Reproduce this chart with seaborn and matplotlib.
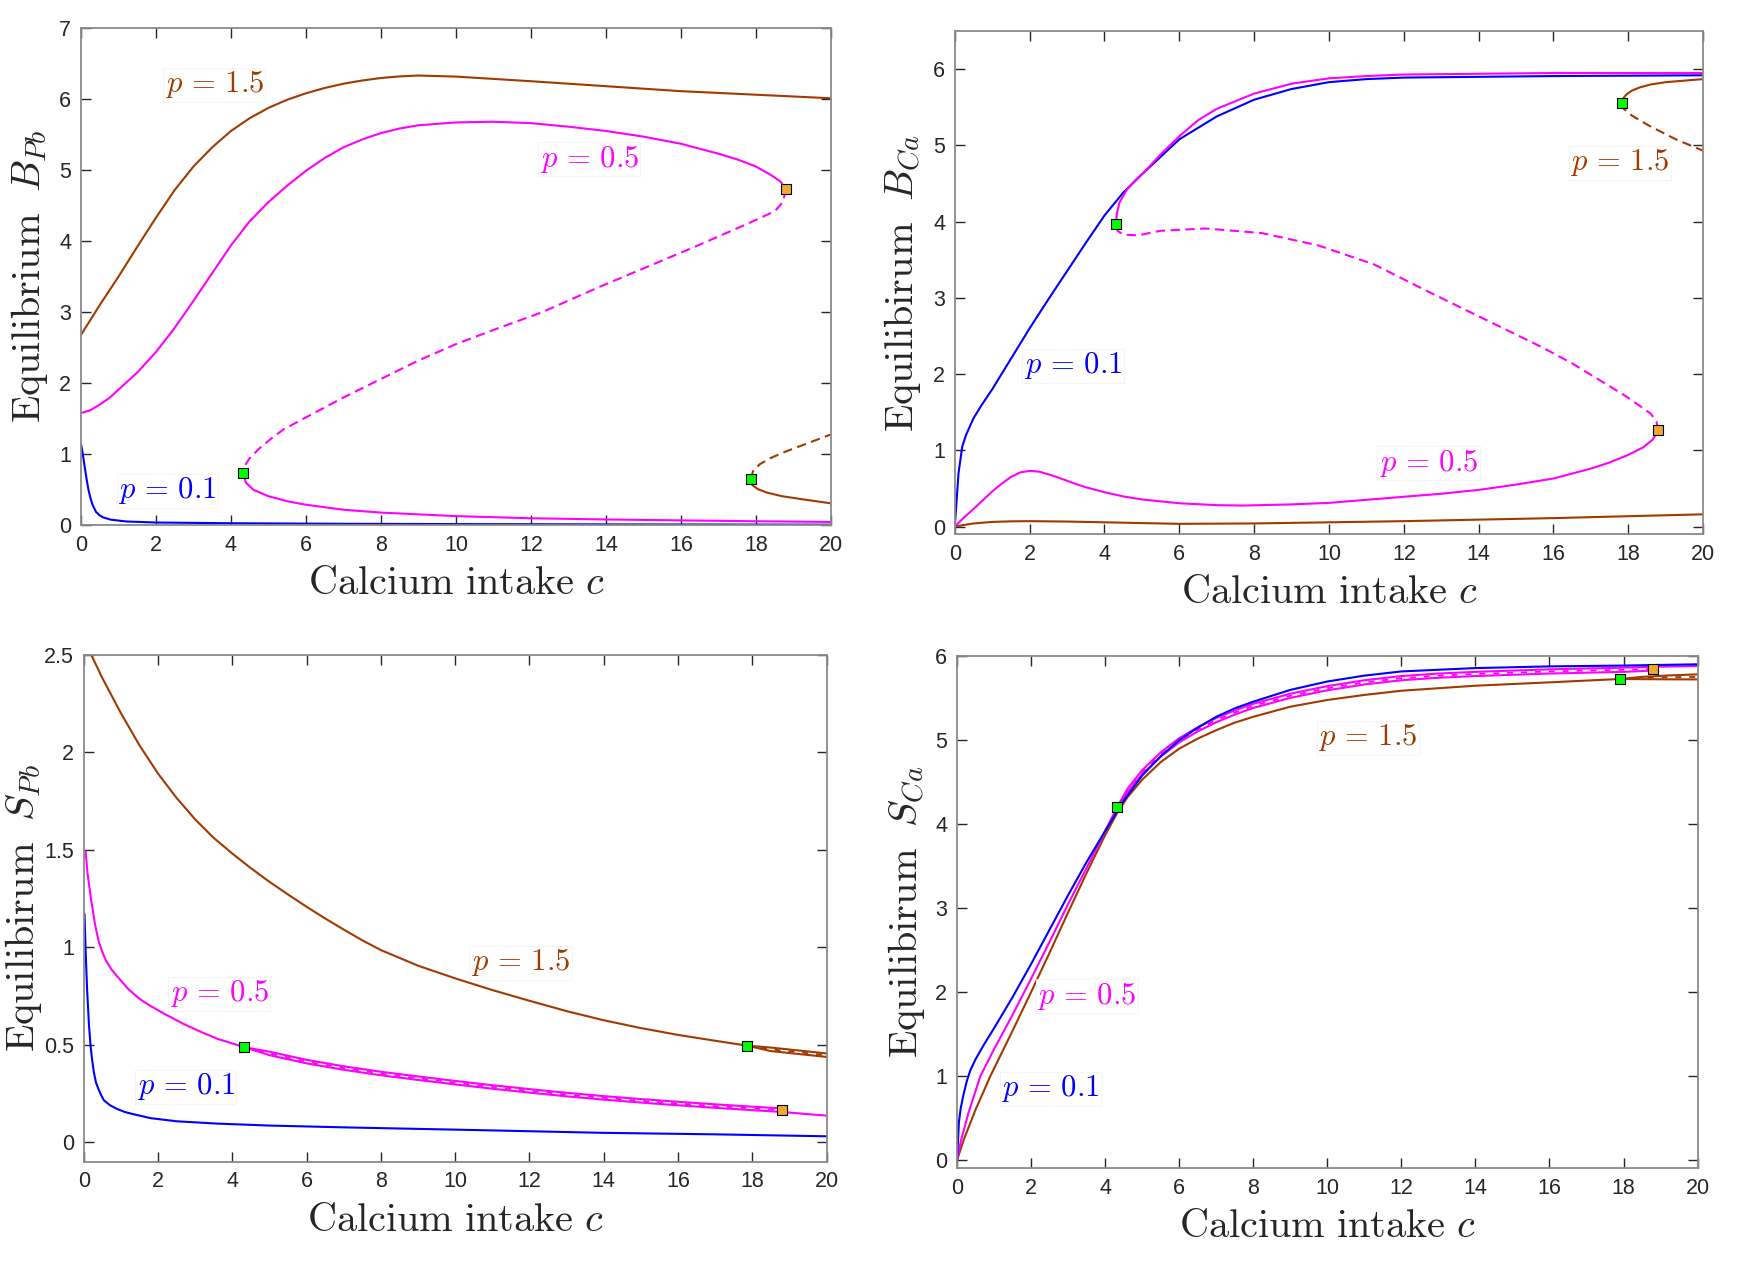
import numpy as np
import pandas as pd
import matplotlib
matplotlib.use("Agg")
import matplotlib.pyplot as plt
from matplotlib.ticker import FuncFormatter
import seaborn as sns

sns.set_style("ticks")
plt.rcParams['font.family'] = ['Liberation Sans', 'DejaVu Sans']
plt.rcParams['mathtext.fontset'] = 'cm'

BLUE = '#0000ff'
MAG = '#ff00ff'
BROWN = '#a03a00'
GREEN = '#00ff00'
ORANGE = '#f0a830'

# ---------------- data ----------------
# top left: equilibrium B_Pb
tl_blue_c = [0, 0.05, 0.1, 0.15, 0.2, 0.25, 0.3, 0.4, 0.5, 0.6, 0.8, 1.2, 2, 4, 7, 10, 14, 20]
tl_blue_b = [1.15, 1.0, 0.82, 0.65, 0.5, 0.39, 0.3, 0.19, 0.14, 0.11, 0.08, 0.055, 0.04, 0.03, 0.022, 0.018, 0.014, 0.01]

tl_mag_up_c = [0, 0.25, 0.5, 0.75, 1, 1.5, 2, 2.5, 3, 3.5, 4, 4.5, 5, 5.5, 6, 6.5, 7, 7.5, 8, 8.5, 9, 10, 11, 12, 13, 14, 15, 16, 17, 17.5, 18, 18.4, 18.65, 18.8]
tl_mag_up_b = [1.58, 1.62, 1.7, 1.79, 1.91, 2.15, 2.44, 2.78, 3.16, 3.55, 3.94, 4.28, 4.55, 4.78, 4.99, 5.17, 5.32, 5.43, 5.52, 5.585, 5.63, 5.67, 5.68, 5.66, 5.61, 5.55, 5.47, 5.37, 5.23, 5.15, 5.05, 4.93, 4.84, 4.73]
tl_mag_mid_c = [18.8, 18.72, 18.5, 17.8, 16.5, 15.2, 13.8, 12.3, 11, 10, 9, 7.96, 7, 5.93, 5.4, 5.07, 4.75, 4.49, 4.36, 4.33]
tl_mag_mid_b = [4.73, 4.55, 4.42, 4.25, 3.95, 3.66, 3.35, 3.0, 2.75, 2.55, 2.32, 2.05, 1.8, 1.5, 1.35, 1.22, 1.08, 0.94, 0.83, 0.73]
tl_mag_low_c = [4.33, 4.4, 4.6, 5, 5.5, 6, 7, 8, 10, 12, 14, 16, 18, 20]
tl_mag_low_b = [0.73, 0.6, 0.5, 0.41, 0.34, 0.29, 0.22, 0.18, 0.13, 0.10, 0.083, 0.07, 0.058, 0.048]

tl_brn_up_c = [0, 0.5, 1, 1.5, 2, 2.5, 3, 3.5, 4, 4.5, 5, 5.5, 6, 6.5, 7, 7.5, 8, 8.5, 9, 10, 12, 14, 16, 18, 20]
tl_brn_up_b = [2.68, 3.1, 3.5, 3.92, 4.33, 4.72, 5.05, 5.32, 5.55, 5.73, 5.875, 5.99, 6.08, 6.155, 6.215, 6.26, 6.295, 6.318, 6.33, 6.315, 6.25, 6.18, 6.11, 6.06, 6.01]
tl_brn_low_c = [17.86, 17.9, 18.05, 18.3, 18.7, 19.2, 19.6, 20]
tl_brn_low_b = [0.65, 0.57, 0.51, 0.46, 0.41, 0.37, 0.34, 0.31]
tl_brn_mid_c = [17.86, 17.92, 18.1, 18.4, 18.8, 19.2, 19.6, 20]
tl_brn_mid_b = [0.65, 0.76, 0.86, 0.95, 1.04, 1.12, 1.2, 1.28]

tl_fold_green_c = [4.33, 17.86]
tl_fold_green_b = [0.73, 0.65]
tl_fold_orange_c = [18.8]
tl_fold_orange_b = [4.73]

# top right: equilibrium B_Ca
tr_blue_c = [0, 0.05, 0.1, 0.2, 0.3, 0.5, 0.7, 1, 1.5, 2, 2.5, 3, 3.5, 4, 4.5, 5, 5.5, 6, 7, 8, 9, 10, 11, 12, 14, 16, 20]
tr_blue_b = [0, 0.35, 0.7, 1.05, 1.2, 1.42, 1.58, 1.8, 2.2, 2.6, 2.98, 3.35, 3.72, 4.08, 4.38, 4.62, 4.85, 5.08, 5.38, 5.6, 5.74, 5.83, 5.87, 5.89, 5.9, 5.91, 5.92]

tr_mag_low_c = [0, 0.25, 0.5, 1, 1.25, 1.5, 1.75, 2, 2.25, 2.5, 2.75, 3, 3.25, 3.5, 4, 4.5, 5, 6, 7, 7.7, 9, 10, 11, 12, 13, 14, 15, 16, 17, 17.5, 18, 18.4, 18.65, 18.8]
tr_mag_low_b = [0, 0.12, 0.23, 0.46, 0.56, 0.65, 0.71, 0.73, 0.72, 0.685, 0.645, 0.6, 0.555, 0.515, 0.45, 0.395, 0.355, 0.305, 0.28, 0.275, 0.29, 0.31, 0.35, 0.39, 0.43, 0.48, 0.55, 0.63, 0.76, 0.84, 0.94, 1.04, 1.14, 1.26]
tr_mag_mid_c = [18.8, 18.75, 18.6, 18.4, 17.9, 17.2, 16.5, 15.7, 14.2, 12.7, 11.2, 9.7, 8.2, 6.7, 5.5, 4.9, 4.5, 4.35, 4.31]
tr_mag_mid_b = [1.26, 1.38, 1.48, 1.55, 1.72, 1.93, 2.14, 2.35, 2.71, 3.07, 3.44, 3.69, 3.85, 3.91, 3.88, 3.82, 3.83, 3.88, 3.97]
tr_mag_up_c = [4.31, 4.33, 4.4, 4.6, 4.8, 5.1, 5.5, 6, 6.5, 7, 8, 9, 10, 11, 12, 14, 16, 20]
tr_mag_up_b = [3.97, 4.1, 4.25, 4.42, 4.53, 4.67, 4.88, 5.12, 5.33, 5.48, 5.68, 5.81, 5.88, 5.91, 5.93, 5.94, 5.95, 5.95]

tr_brn_low_c = [0, 0.5, 1, 1.5, 2, 3, 4, 5, 6, 8, 10, 12, 14, 16, 18, 20]
tr_brn_low_b = [0, 0.04, 0.06, 0.068, 0.07, 0.065, 0.055, 0.045, 0.035, 0.04, 0.055, 0.07, 0.09, 0.11, 0.135, 0.16]
tr_brn_up_c = [17.84, 17.87, 17.95, 18.1, 18.3, 18.6, 19.0, 19.5, 20]
tr_brn_up_b = [5.56, 5.62, 5.67, 5.72, 5.76, 5.8, 5.83, 5.85, 5.87]
tr_brn_mid_c = [17.84, 17.88, 18.1, 18.55, 19.27, 20]
tr_brn_mid_b = [5.56, 5.48, 5.39, 5.26, 5.08, 4.93]

tr_fold_green_c = [4.31, 17.84]
tr_fold_green_b = [3.97, 5.56]
tr_fold_orange_c = [18.8]
tr_fold_orange_b = [1.26]

# bottom left: equilibrium S_Pb
bl_blue_c = [0.02, 0.05, 0.09, 0.14, 0.18, 0.22, 0.27, 0.33, 0.4, 0.47, 0.54, 0.7, 0.9, 1.1, 1.3, 1.8, 2.5, 3.6, 5, 7.2, 10.8, 13.9, 17, 20]
bl_blue_s = [1.17, 0.98, 0.78, 0.6, 0.5, 0.43, 0.36, 0.305, 0.27, 0.24, 0.215, 0.19, 0.17, 0.155, 0.145, 0.123, 0.107, 0.095, 0.085, 0.075, 0.061, 0.048, 0.04, 0.03]

bl_mag_a_c = [0.05, 0.1, 0.2, 0.3, 0.4, 0.5, 0.6, 0.75, 0.9, 1.2, 1.5, 1.8, 2.2, 2.7, 3.1, 3.6, 4.32, 5, 6, 7, 8, 9, 10, 11, 12, 13, 14, 15, 16, 17, 18, 18.8]
bl_mag_a_s = [1.49, 1.38, 1.24, 1.12, 1.03, 0.975, 0.93, 0.885, 0.85, 0.785, 0.735, 0.698, 0.655, 0.605, 0.57, 0.53, 0.487, 0.464, 0.422, 0.389, 0.361, 0.337, 0.314, 0.292, 0.272, 0.253, 0.236, 0.221, 0.207, 0.194, 0.182, 0.173]
bl_mag_mid_c = [4.32, 5, 6, 7, 8, 9, 10, 11, 12, 13, 14, 15, 16, 17, 18, 18.8]
bl_mag_mid_s = [0.487, 0.455, 0.413, 0.38, 0.352, 0.328, 0.305, 0.283, 0.263, 0.244, 0.227, 0.212, 0.198, 0.185, 0.173, 0.164]
bl_mag_b_c = [4.32, 5, 6, 7, 8, 9, 10, 11, 12, 13, 14, 15, 16, 17, 18, 18.8, 19.4, 20]
bl_mag_b_s = [0.487, 0.446, 0.404, 0.371, 0.343, 0.319, 0.296, 0.274, 0.254, 0.235, 0.218, 0.203, 0.189, 0.176, 0.164, 0.155, 0.145, 0.136]

bl_brn_c = [0.2, 0.5, 1, 1.5, 2, 2.5, 3, 3.5, 4, 4.5, 5, 5.5, 6, 6.5, 7, 7.5, 8, 9, 10, 11, 12, 13, 14, 15, 16, 17, 17.86, 18.5, 19.2, 20]
bl_brn_s = [2.5, 2.38, 2.2, 2.035, 1.89, 1.765, 1.655, 1.56, 1.48, 1.405, 1.335, 1.27, 1.207, 1.147, 1.09, 1.035, 0.985, 0.905, 0.84, 0.78, 0.725, 0.672, 0.625, 0.585, 0.55, 0.52, 0.495, 0.485, 0.471, 0.455]
bl_brn_b_c = [17.86, 18.5, 19.2, 20]
bl_brn_b_s = [0.495, 0.467, 0.453, 0.437]
bl_brn_mid_c = [17.86, 18.5, 19.2, 20]
bl_brn_mid_s = [0.495, 0.476, 0.462, 0.446]

bl_fold_green_c = [4.32, 17.86]
bl_fold_green_s = [0.487, 0.495]
bl_fold_orange_c = [18.8]
bl_fold_orange_s = [0.164]

# bottom right: equilibrium S_Ca
br_blue_c = [0, 0.05, 0.1, 0.18, 0.27, 0.36, 0.5, 0.72, 1, 1.5, 2, 2.5, 3, 3.5, 4, 4.5, 5, 5.5, 6, 6.5, 7, 7.5, 8, 9, 10, 11, 12, 14, 16, 18, 20]
br_blue_s = [0, 0.45, 0.62, 0.79, 0.95, 1.07, 1.2, 1.37, 1.57, 1.94, 2.335, 2.745, 3.155, 3.55, 3.92, 4.28, 4.58, 4.81, 5.0, 5.15, 5.28, 5.38, 5.46, 5.6, 5.7, 5.77, 5.82, 5.86, 5.88, 5.89, 5.905]

br_mag_a_c = [0, 0.1, 0.3, 0.63, 1, 1.5, 2, 2.5, 3, 3.5, 4, 4.32, 4.6, 5, 5.5, 6, 6.5, 7, 7.5, 8, 9, 10, 11, 12, 13, 14, 16, 18, 18.8]
br_mag_a_s = [0, 0.22, 0.55, 1.0, 1.32, 1.73, 2.16, 2.6, 3.05, 3.48, 3.92, 4.2, 4.38, 4.595, 4.805, 4.975, 5.105, 5.215, 5.305, 5.385, 5.505, 5.595, 5.665, 5.715, 5.745, 5.765, 5.795, 5.815, 5.83]
br_mag_mid_c = [4.32, 4.6, 5, 5.5, 6, 6.5, 7, 7.5, 8, 9, 10, 11, 12, 13, 14, 16, 18, 18.8]
br_mag_mid_s = [4.2, 4.4, 4.62, 4.83, 5.0, 5.13, 5.24, 5.33, 5.41, 5.53, 5.62, 5.69, 5.74, 5.77, 5.79, 5.82, 5.84, 5.85]
br_mag_b_c = [4.32, 4.6, 5, 5.5, 6, 6.5, 7, 7.5, 8, 9, 10, 11, 12, 13, 14, 16, 18, 18.8, 19.4, 20]
br_mag_b_s = [4.2, 4.42, 4.645, 4.855, 5.025, 5.155, 5.265, 5.355, 5.435, 5.555, 5.645, 5.715, 5.765, 5.795, 5.815, 5.845, 5.865, 5.875, 5.88, 5.885]

br_brn_c = [0, 0.18, 0.5, 0.9, 1.5, 2, 2.5, 3, 3.5, 4, 4.32, 4.6, 5, 5.5, 6, 6.5, 7, 7.5, 8, 9, 10, 11, 12, 14, 16, 17.9, 18.5, 19.2, 20]
br_brn_s = [0, 0.24, 0.6, 1.0, 1.54, 2.0, 2.47, 2.95, 3.42, 3.87, 4.13, 4.32, 4.53, 4.74, 4.9, 5.02, 5.12, 5.21, 5.28, 5.4, 5.48, 5.54, 5.59, 5.65, 5.69, 5.73, 5.728, 5.726, 5.725]
br_brn_b_c = [17.9, 18.5, 19.2, 20]
br_brn_b_s = [5.73, 5.755, 5.772, 5.785]
br_brn_mid_c = [17.9, 18.5, 19.2, 20]
br_brn_mid_s = [5.73, 5.742, 5.75, 5.755]

br_fold_green_c = [4.32, 17.9]
br_fold_green_s = [4.2, 5.73]
br_fold_orange_c = [18.8]
br_fold_orange_s = [5.85]

# label positions (left edge, vertical centre)
tl_labels = [(2.23, 6.2, '1.5', BROWN), (12.23, 5.15, '0.5', MAG), (1.0, 0.49, '0.1', BLUE)]
tr_labels = [(1.85, 2.11, '0.1', BLUE), (11.33, 0.83, '0.5', MAG), (16.45, 4.77, '1.5', BROWN)]
bl_labels = [(10.42, 0.92, '1.5', BROWN), (2.31, 0.76, '0.5', MAG), (1.42, 0.285, '0.1', BLUE)]
br_labels = [(9.76, 5.03, '1.5', BROWN), (2.17, 1.95, '0.5', MAG), (1.2, 0.85, '0.1', BLUE)]

DASH = (0, (4.5, 2.6))
BAND_DASH = (0, (3.3, 4.4))


def curve(ax, c, y, color, dashed=False, lw=1.5, band=False):
    ls = '-'
    if dashed:
        ls = BAND_DASH if band else DASH
    sns.lineplot(x=c, y=y, ax=ax, sort=False, estimator=None, color=color,
                 linewidth=lw, linestyle=ls)


def folds(ax, gc, gy, oc, oy):
    sns.scatterplot(x=gc, y=gy, ax=ax, marker='s', s=42, color=GREEN,
                    edgecolor='black', linewidth=0.8, zorder=5)
    sns.scatterplot(x=oc, y=oy, ax=ax, marker='s', s=42, color=ORANGE,
                    edgecolor='black', linewidth=0.8, zorder=5)


def style(ax, ylim, yticks, ylabel, ylab_x):
    ax.set_xlim(0, 20)
    ax.set_ylim(*ylim)
    ax.set_xticks(np.arange(0, 21, 2))
    ax.set_yticks(yticks)
    ax.yaxis.set_major_formatter(FuncFormatter(lambda v, p: '%g' % v))
    ax.tick_params(direction='in', top=True, right=True, length=7, width=1,
                   colors='#262626', labelsize=15.5, pad=7)
    for sp in ax.spines.values():
        sp.set_color('#8a8a8a')
        sp.set_linewidth(1.3)
    ax.set_xlabel(r'$\mathrm{Calcium\ intake}\ c$', fontsize=29, labelpad=6)
    ax.set_ylabel(ylabel, fontsize=29)
    # right edge of the rotated label, in axes coordinates
    ax.yaxis.set_label_coords(ylab_x, 0.5)


def labels(ax, items):
    for x, y, val, col in items:
        ax.text(x, y, r'$p\,=\,%s$' % val, color=col, fontsize=22, ha='left', va='center',
                bbox=dict(boxstyle='square,pad=0.05', fc='white', ec='#f2f2f2', lw=0.6))


fig = plt.figure(figsize=(17.49, 12.69), dpi=100)
ax_tl = fig.add_axes([0.0463, 0.586, 0.4288, 0.392])
ax_tr = fig.add_axes([0.5459, 0.5791, 0.4279, 0.3964])
ax_bl = fig.add_axes([0.0479, 0.0846, 0.4247, 0.3995])
ax_br = fig.add_axes([0.5472, 0.0793, 0.4234, 0.4035])

# top left
curve(ax_tl, tl_brn_up_c, tl_brn_up_b, BROWN)
curve(ax_tl, tl_brn_low_c, tl_brn_low_b, BROWN)
curve(ax_tl, tl_brn_mid_c, tl_brn_mid_b, BROWN, dashed=True)
curve(ax_tl, tl_mag_up_c, tl_mag_up_b, MAG)
curve(ax_tl, tl_mag_mid_c, tl_mag_mid_b, MAG, dashed=True)
curve(ax_tl, tl_mag_low_c, tl_mag_low_b, MAG)
curve(ax_tl, tl_blue_c, tl_blue_b, BLUE)
folds(ax_tl, tl_fold_green_c, tl_fold_green_b, tl_fold_orange_c, tl_fold_orange_b)
style(ax_tl, (0, 7), range(0, 8), r'$\mathrm{Equilibrium}\;\ B_{Pb}$', -0.041)
labels(ax_tl, tl_labels)

# top right
curve(ax_tr, tr_brn_low_c, tr_brn_low_b, BROWN)
curve(ax_tr, tr_brn_up_c, tr_brn_up_b, BROWN)
curve(ax_tr, tr_brn_mid_c, tr_brn_mid_b, BROWN, dashed=True)
curve(ax_tr, tr_blue_c, tr_blue_b, BLUE)
curve(ax_tr, tr_mag_low_c, tr_mag_low_b, MAG)
curve(ax_tr, tr_mag_mid_c, tr_mag_mid_b, MAG, dashed=True)
curve(ax_tr, tr_mag_up_c, tr_mag_up_b, MAG)
folds(ax_tr, tr_fold_green_c, tr_fold_green_b, tr_fold_orange_c, tr_fold_orange_b)
style(ax_tr, (-0.1, 6.5), range(0, 7), r'$\mathrm{Equilibirum}\;\ B_{Ca}$', -0.042)
labels(ax_tr, tr_labels)

# bottom left
curve(ax_bl, bl_brn_c, bl_brn_s, BROWN)
curve(ax_bl, bl_brn_b_c, bl_brn_b_s, BROWN)
curve(ax_bl, bl_brn_mid_c, bl_brn_mid_s, BROWN, dashed=True, lw=1.3, band=True)
curve(ax_bl, bl_mag_a_c, bl_mag_a_s, MAG)
curve(ax_bl, bl_mag_b_c, bl_mag_b_s, MAG)
curve(ax_bl, bl_mag_mid_c, bl_mag_mid_s, MAG, dashed=True, lw=1.3, band=True)
curve(ax_bl, bl_blue_c, bl_blue_s, BLUE)
folds(ax_bl, bl_fold_green_c, bl_fold_green_s, bl_fold_orange_c, bl_fold_orange_s)
style(ax_bl, (-0.1, 2.5), [0, 0.5, 1, 1.5, 2, 2.5], r'$\mathrm{Equilibirum}\;\ S_{Pb}$', -0.054)
labels(ax_bl, bl_labels)

# bottom right
curve(ax_br, br_brn_c, br_brn_s, BROWN)
curve(ax_br, br_brn_b_c, br_brn_b_s, BROWN)
curve(ax_br, br_brn_mid_c, br_brn_mid_s, BROWN, dashed=True, lw=1.3, band=True)
curve(ax_br, br_mag_a_c, br_mag_a_s, MAG)
curve(ax_br, br_mag_b_c, br_mag_b_s, MAG)
curve(ax_br, br_mag_mid_c, br_mag_mid_s, MAG, dashed=True, lw=1.3, band=True)
curve(ax_br, br_blue_c, br_blue_s, BLUE)
folds(ax_br, br_fold_green_c, br_fold_green_s, br_fold_orange_c, br_fold_orange_s)
style(ax_br, (-0.1, 6), range(0, 7), r'$\mathrm{Equilibirum}\;\ S_{Ca}$', -0.04)
labels(ax_br, br_labels)

fig.savefig('out.png', dpi=100, facecolor='white')
